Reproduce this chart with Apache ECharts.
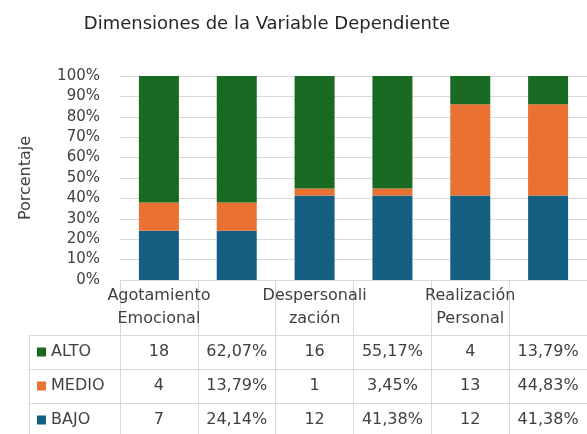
<!DOCTYPE html>
<html lang="es">
<head>
    <meta charset="UTF-8">
    <title>Dimensiones de la Variable Dependiente</title>
    <script src="https://cdn.jsdelivr.net/npm/echarts@6/dist/echarts.min.js"></script>
    <style>
        html, body { margin: 0; padding: 0; background: #fff; }
        #chart { width: 587px; height: 434px; }
    </style>
</head>
<body>
<div id="chart"></div>
<script>
    // header labels of the table (second column of each pair is empty)
    const categories = ['Agotamiento\nEmocional', '', 'Despersonali\nzación', '', 'Realización\nPersonal', ''];
    const niveles = ['ALTO', 'MEDIO', 'BAJO'];

    // counts and percentages per dimension
    const altoN = [18, 16, 4];
    const altoPct = [62.07, 55.17, 13.79];
    const medioN = [4, 1, 13];
    const medioPct = [13.79, 3.45, 44.83];
    const bajoN = [7, 12, 12];
    const bajoPct = [24.14, 41.38, 41.38];

    const colors = { ALTO: '#196B24', MEDIO: '#E97132', BAJO: '#156082' };
    const font = 'DejaVu Sans';
    const lineColor = '#d9d9d9';
    const textColor = '#404040';

    function fmtPct(v) {
        return v.toFixed(2).replace('.', ',') + '%';
    }
    // table row: count, percent, count, percent ...
    function tableRow(n, p) {
        let row = [];
        for (let i = 0; i < n.length; i++) {
            row.push(String(n[i]), fmtPct(p[i]));
        }
        return row;
    }
    // bars: both columns of a dimension show its percentages
    function barData(p) {
        let d = [];
        p.forEach(v => { d.push(v, v); });
        return d;
    }

    const rows = {
        ALTO: tableRow(altoN, altoPct),
        MEDIO: tableRow(medioN, medioPct),
        BAJO: tableRow(bajoN, bajoPct)
    };
    const rowOffsets = [55, 89, 123];

    function cellAxis(gridIndex, offset, data, tickLen, label) {
        return {
            type: 'category',
            gridIndex: gridIndex,
            data: data,
            position: 'bottom',
            offset: offset,
            axisLine: { show: true, onZero: false, lineStyle: { color: lineColor } },
            axisTick: { show: true, interval: 0, length: tickLen, lineStyle: { color: lineColor } },
            axisLabel: label
        };
    }

    let xAxes = [cellAxis(0, 0, categories, 55, {
        interval: 0, margin: 4, fontSize: 16, lineHeight: 23,
        color: textColor, fontFamily: font
    })];

    niveles.forEach((nivel, k) => {
        xAxes.push(cellAxis(0, rowOffsets[k], categories, 34, {
            interval: 0, margin: 9, fontSize: 16, lineHeight: 16,
            color: textColor, fontFamily: font,
            formatter: (v, i) => rows[nivel][i]
        }));
    });

    // legend column of the table: only borders, names come from the legends
    niveles.forEach((nivel, k) => {
        xAxes.push(cellAxis(1, rowOffsets[k], [nivel], 34, { show: false }));
    });

    const legends = niveles.map((nivel, k) => ({
        data: [nivel],
        left: 37,
        top: 280 + rowOffsets[k] + 9,
        padding: 0,
        icon: 'rect',
        itemWidth: 9,
        itemHeight: 9,
        textStyle: { fontSize: 16, lineHeight: 16, color: textColor, fontFamily: font }
    }));

    const chart = echarts.init(document.getElementById('chart'));
    const option = {
        animation: false,
        title: {
            text: 'Dimensiones de la Variable Dependiente',
            left: 262,
            textAlign: 'center',
            top: 10,
            textStyle: { fontSize: 18, fontWeight: 'normal', color: '#262626', fontFamily: font }
        },
        legend: legends,
        grid: [
            { left: 120, right: 0, top: 76, height: 204 },
            { left: 29, width: 91, top: 76, height: 204 }
        ],
        xAxis: xAxes,
        yAxis: [{
            type: 'value',
            gridIndex: 0,
            min: 0, max: 100, interval: 10,
            name: 'Porcentaje',
            nameLocation: 'middle',
            nameRotate: 90,
            nameGap: 86,
            nameTextStyle: { fontSize: 16, color: textColor, fontFamily: font },
            axisLine: { show: false },
            axisTick: { show: false },
            axisLabel: { formatter: '{value}%', margin: 20, fontSize: 15, color: textColor, fontFamily: font },
            splitLine: { lineStyle: { color: lineColor } }
        }, {
            type: 'value', gridIndex: 1, show: false, min: 0, max: 1
        }],
        series: [
            { name: 'BAJO', type: 'bar', stack: 'total', barWidth: 40, data: barData(bajoPct), itemStyle: { color: colors.BAJO } },
            { name: 'MEDIO', type: 'bar', stack: 'total', barWidth: 40, data: barData(medioPct), itemStyle: { color: colors.MEDIO } },
            { name: 'ALTO', type: 'bar', stack: 'total', barWidth: 40, data: barData(altoPct), itemStyle: { color: colors.ALTO } }
        ]
    };
    chart.setOption(option);
</script>
</body>
</html>
